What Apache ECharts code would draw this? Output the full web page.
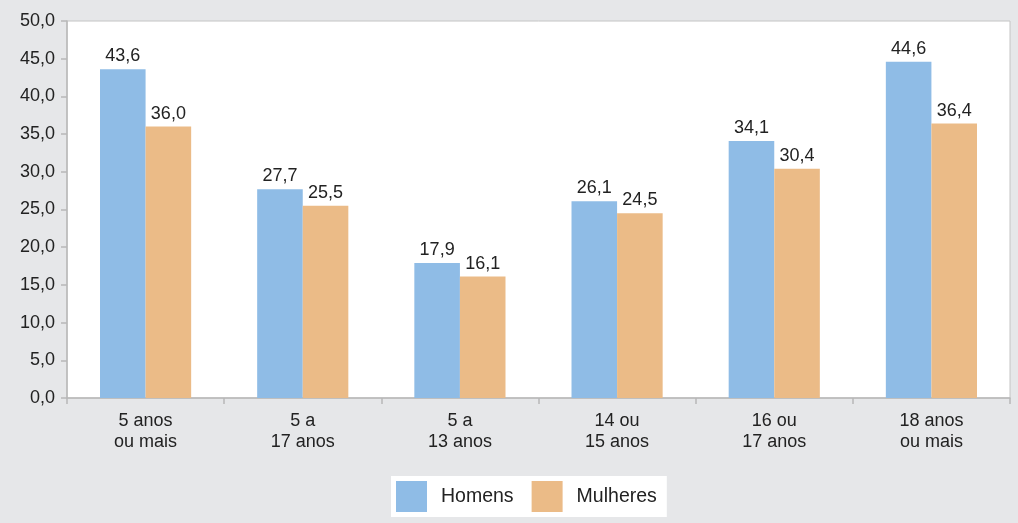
<!DOCTYPE html>
<html>
<head>
<meta charset="utf-8">
<script src="https://cdn.jsdelivr.net/npm/echarts@6/dist/echarts.min.js"></script>
<style>
  html, body { margin: 0; padding: 0; background: #e6e7e9; }
  #chart { width: 1018px; height: 523px; }
</style>
</head>
<body>
<div id="chart"></div>
<script>
// Age groups and the share for each sex (percent)
const categories = ['5 anos\nou mais', '5 a\n17 anos', '5 a\n13 anos', '14 ou\n15 anos', '16 ou\n17 anos', '18 anos\nou mais'];
const homens = [43.6, 27.7, 17.9, 26.1, 34.1, 44.6];
const mulheres = [36.0, 25.5, 16.1, 24.5, 30.4, 36.4];

const fmt = v => v.toFixed(1).replace('.', ',');
const font = 'Liberation Sans, Arial, sans-serif';
const fs = 18;

const chart = echarts.init(document.getElementById('chart'));
chart.setOption({
  backgroundColor: '#e6e7e9',
  textStyle: { fontFamily: font },
  grid: {
    left: 67, right: 8, top: 21, bottom: 125,
    show: true, backgroundColor: '#ffffff', borderColor: '#c4c4c4', borderWidth: 1
  },
  legend: {
    left: 391, top: 476,
    padding: [5, 10, 5, 5],
    backgroundColor: '#ffffff',
    itemWidth: 31, itemHeight: 31, itemGap: 18,
    icon: 'rect',
    textStyle: { fontSize: 19.5, color: '#222', fontFamily: font, padding: [0, 0, 0, 9] },
    data: ['Homens', 'Mulheres']
  },
  xAxis: {
    type: 'category',
    data: categories,
    axisLine: { lineStyle: { color: '#b8b8b8', width: 1.5 } },
    axisTick: { show: true, length: 6, lineStyle: { color: '#b8b8b8', width: 1.5 } },
    axisLabel: { color: '#222', fontSize: fs, lineHeight: 21, margin: 13, fontFamily: font }
  },
  yAxis: {
    type: 'value',
    min: 0, max: 50, interval: 5,
    axisLine: { show: true, lineStyle: { color: '#b8b8b8', width: 1.5 } },
    axisTick: { show: true, length: 6, lineStyle: { color: '#b8b8b8', width: 1.5 } },
    splitLine: { show: false },
    axisLabel: { color: '#222', fontSize: fs, margin: 12, fontFamily: font, formatter: v => fmt(v) }
  },
  series: [
    {
      name: 'Homens', type: 'bar', data: homens,
      barGap: '0%', barCategoryGap: '42%',
      itemStyle: { color: '#8fbce6' },
      label: { show: true, position: 'top', distance: 4, color: '#222', fontSize: fs, fontFamily: font, formatter: p => fmt(p.value) }
    },
    {
      name: 'Mulheres', type: 'bar', data: mulheres,
      itemStyle: { color: '#ebbb87' },
      label: { show: true, position: 'top', distance: 4, color: '#222', fontSize: fs, fontFamily: font, formatter: p => fmt(p.value) }
    }
  ]
});
</script>
</body>
</html>
